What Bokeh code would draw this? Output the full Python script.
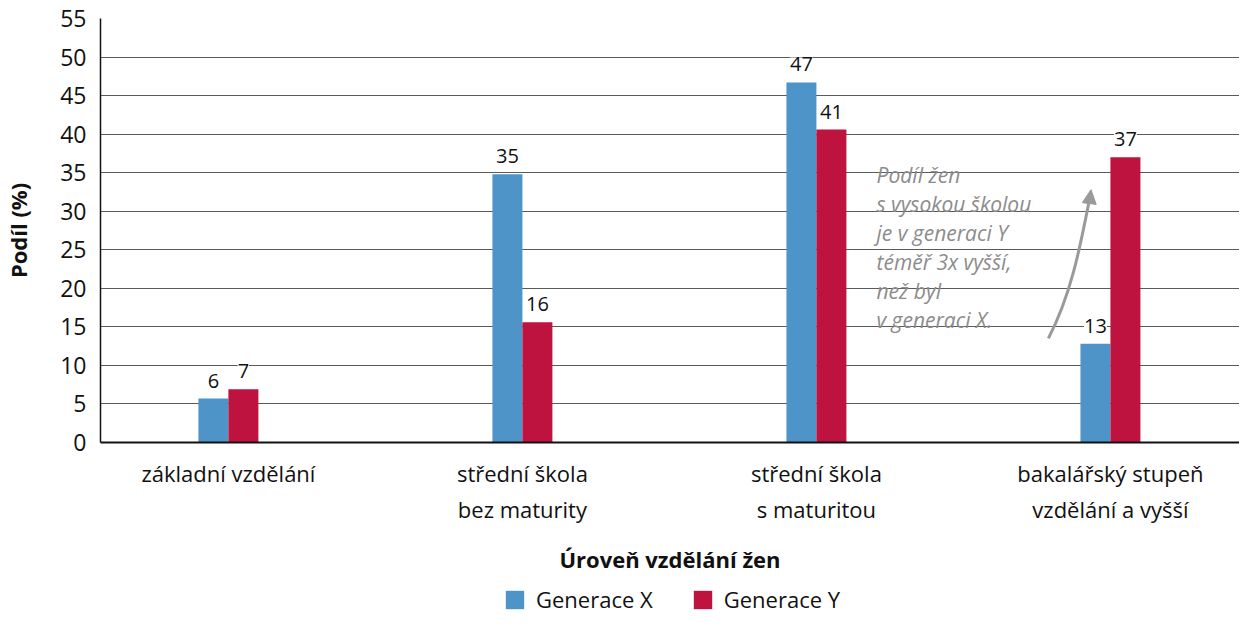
from bokeh.plotting import figure
from bokeh.layouts import column
from bokeh.models import (Range1d, FixedTicker, LabelSet, Label, ColumnDataSource,
                          Legend, LegendItem, Arrow, NormalHead)
from bokeh.core.properties import value
from bokeh.embed import file_html
from bokeh.resources import INLINE

categories = ["základní vzdělání", "střední škola\nbez maturity",
              "střední škola\ns maturitou", "bakalářský stupeň\nvzdělání a vyšší"]
gen_x = [5.7, 34.8, 46.7, 12.8]
gen_y = [6.9, 15.6, 40.6, 37.0]
labels_x = ["6", "35", "47", "13"]
labels_y = ["7", "16", "41", "37"]
y_ticks = list(range(0, 60, 5))
series_names = ["Generace X", "Generace Y"]
note_lines = ["Podíl žen", "s vysokou školou", "je v generaci Y",
              "téměř 3x vyšší,", "než byl", "v generaci X."]

BLUE = "#4f94c8"
RED = "#be133e"
FONT = "Open Sans"
TXT = "#111111"

p = figure(width=1239, output_backend="svg", toolbar_location=None,
           x_range=Range1d(-0.435, 3.439), y_range=Range1d(0, 55),
           frame_width=1139, frame_height=424,
           min_border_left=100, min_border_right=0, min_border_top=18,
           min_border_bottom=136)
p.outline_line_color = None
p.background_fill_color = "white"

pos = list(range(len(categories)))
bw = 0.102
src = ColumnDataSource(dict(
    xx=[i - bw / 2 for i in pos], xy=[i + bw / 2 for i in pos],
    gx=gen_x, gy=gen_y, lx=labels_x, ly=labels_y))

rx = p.vbar(x="xx", top="gx", width=bw, source=src, fill_color=BLUE, line_color=None)
ry = p.vbar(x="xy", top="gy", width=bw, source=src, fill_color=RED, line_color=None)

for xcol, ycol, tcol in (("xx", "gx", "lx"), ("xy", "gy", "ly")):
    p.add_layout(LabelSet(x=xcol, y=ycol, text=tcol, source=src, y_offset=18,
                          text_align="center", text_baseline="middle",
                          text_font=value(FONT), text_font_size="20px", text_color=TXT,
                          background_fill_color="white", background_fill_alpha=1.0))

# y axis
p.yaxis.ticker = FixedTicker(ticks=y_ticks)
p.yaxis.major_tick_line_color = None
p.yaxis.major_tick_out = 0
p.yaxis.major_tick_in = 0
p.yaxis.minor_tick_line_color = None
p.yaxis.minor_tick_out = 0
p.yaxis.major_label_text_font = FONT
p.yaxis.major_label_text_font_size = "23px"
p.yaxis.major_label_text_color = TXT
p.yaxis.major_label_standoff = 14
p.yaxis.axis_line_color = "#111111"
p.yaxis.axis_line_width = 1.5
p.yaxis.axis_label = "Podíl (%)"
p.yaxis.axis_label_text_font = FONT
p.yaxis.axis_label_text_font_style = "bold"
p.yaxis.axis_label_text_font_size = "22px"
p.yaxis.axis_label_text_color = TXT
p.yaxis.axis_label_standoff = 24

# x axis
p.xaxis.ticker = FixedTicker(ticks=pos)
p.xaxis.major_label_overrides = {i: c for i, c in enumerate(categories)}
p.xaxis.major_tick_line_color = None
p.xaxis.major_tick_out = 0
p.xaxis.major_tick_in = 0
p.xaxis.minor_tick_line_color = None
p.xaxis.minor_tick_out = 0
p.xaxis.major_label_text_font = FONT
p.xaxis.major_label_text_font_size = "22px"
p.xaxis.major_label_text_color = TXT
p.xaxis.major_label_standoff = 15
p.xaxis.axis_line_color = "#111111"
p.xaxis.axis_line_width = 2
p.xaxis.axis_label = "Úroveň vzdělání žen"
p.xaxis.axis_label_text_font = FONT
p.xaxis.axis_label_text_font_style = "bold"
p.xaxis.axis_label_text_font_size = "22px"
p.xaxis.axis_label_text_color = TXT
p.xaxis.axis_label_standoff = 17

p.xgrid.grid_line_color = None
p.ygrid.grid_line_color = "#5a5a5a"
p.ygrid.grid_line_width = 1

# annotation: white backgrounds first, then the text on top
for k, line in enumerate(note_lines):
    p.add_layout(Label(x=776, y=442 - (174 + 29 * k), x_units="screen", y_units="screen",
                       text=line, text_font="Open Sans", text_font_style="italic",
                       text_font_size="21px", text_alpha=0.0,
                       text_baseline="middle", text_align="left", padding=5,
                       background_fill_color="white", background_fill_alpha=1.0))
for k, line in enumerate(note_lines):
    p.add_layout(Label(x=776, y=442 - (174 + 29 * k), x_units="screen", y_units="screen",
                       text=line, text_font="Open Sans", text_font_style="italic",
                       text_font_size="21px", text_color="#8c8c8c",
                       text_baseline="middle", text_align="left"))
p.bezier(x0=[2.789], y0=[13.5], x1=[2.93], y1=[31.8], cx0=[2.87], cy0=[19.5], cx1=[2.9], cy1=[26.0],
         line_color="#9a9a9a", line_width=3)
p.add_layout(Arrow(end=NormalHead(size=14, fill_color="#9a9a9a", line_color="#9a9a9a"),
                   x_start=2.928, y_start=31.0, x_end=2.934, y_end=32.8,
                   line_color="#9a9a9a", line_width=3))

# legend strip
q = figure(width=1239, height=37, output_backend="svg", toolbar_location=None,
           x_range=Range1d(0, 1), y_range=Range1d(0, 1),
           min_border_left=0, min_border_right=0, min_border_top=0, min_border_bottom=0)
q.axis.visible = False
q.grid.grid_line_color = None
q.outline_line_color = None
lx_r = q.vbar(x=[0.5], top=[0], bottom=[0], width=0, fill_color=BLUE, line_color=None)
ly_r = q.vbar(x=[0.5], top=[0], bottom=[0], width=0, fill_color=RED, line_color=None)
legend = Legend(items=[LegendItem(label=series_names[0], renderers=[lx_r]),
                       LegendItem(label=series_names[1], renderers=[ly_r])],
                orientation="horizontal", location=(403, 1),
                label_text_font=FONT, label_text_font_size="22px", label_text_color=TXT,
                glyph_width=23, glyph_height=23, spacing=38, label_standoff=10,
                border_line_color=None, background_fill_alpha=0, margin=0, padding=2)
q.add_layout(legend, "center")

open("out.html", "w").write(file_html(column(p, q, spacing=0), INLINE))
